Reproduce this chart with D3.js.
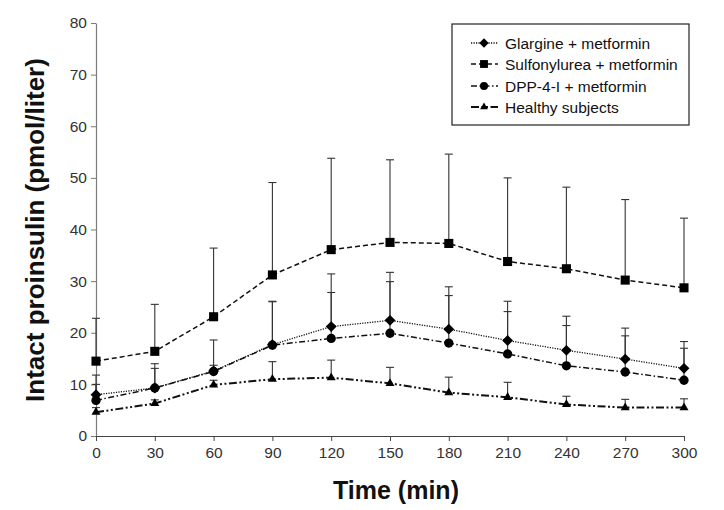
<!DOCTYPE html>
<html>
<head>
<meta charset="utf-8">
<script src="https://cdn.jsdelivr.net/npm/d3@7"></script>
<style>
  html, body { margin: 0; padding: 0; background: #fff; }
  svg { display: block; }
  text { font-family: "Liberation Sans", Arial, Helvetica, sans-serif; }
</style>
</head>
<body>
<div id="chart"></div>
<script>
// ---- data ----
const times = [0, 30, 60, 90, 120, 150, 180, 210, 240, 270, 300];
const seriesNames = ["Glargine + metformin", "Sulfonylurea + metformin", "DPP-4-I + metformin", "Healthy subjects"];
const glargine      = [8.0, 9.3, 12.6, 17.7, 21.2, 22.4, 20.7, 18.5, 16.6, 14.9, 13.1];
const glargineUpper = [11.8, 14.0, 18.6, 26.1, 31.4, 31.7, 28.9, 26.1, 23.2, 20.9, 18.3];
const sulfonylurea      = [14.5, 16.4, 23.1, 31.2, 36.1, 37.5, 37.3, 33.8, 32.4, 30.2, 28.7];
const sulfonylureaUpper = [22.8, 25.5, 36.4, 49.1, 53.8, 53.5, 54.6, 50.0, 48.2, 45.8, 42.2];
const dpp      = [6.9, 9.3, 12.5, 17.6, 18.9, 19.9, 18.0, 15.9, 13.6, 12.4, 10.8];
const dppUpper = [10.0, 13.1, 13.7, 26.0, 27.8, 29.9, 27.2, 24.1, 21.4, 19.4, 17.0];
const healthy      = [4.6, 6.3, 9.9, 11.0, 11.3, 10.2, 8.4, 7.5, 6.1, 5.5, 5.5];
const healthyUpper = [5.5, 7.0, 10.8, 14.4, 14.7, 13.3, 11.4, 10.4, 7.7, 7.1, 7.2];
const yTicks = [0, 10, 20, 30, 40, 50, 60, 70, 80];
const xTicks = [0, 30, 60, 90, 120, 150, 180, 210, 240, 270, 300];

// ---- styles ----
const styles = [
  { values: glargine, upper: glargineUpper, symbol: d3.symbolDiamond2, size: 75, dash: "1.2,1.3", width: 1.3 },
  { values: sulfonylurea, upper: sulfonylureaUpper, symbol: d3.symbolSquare2, size: 105, dash: "5,3", width: 1.5 },
  { values: dpp, upper: dppUpper, symbol: d3.symbolCircle, size: 68, dash: "6,2.5,1.5,2.5", width: 1.5 },
  { values: healthy, upper: healthyUpper, symbol: d3.symbolTriangle2, size: 58, dash: "8,2.5,2,2.5,2,2.5", width: 2 }
];

const W = 724, H = 510;
const svg = d3.select("#chart").append("svg").attr("width", W).attr("height", H);

const x = d3.scaleLinear().domain([0, 300]).range([96, 684]);
const y = d3.scaleLinear().domain([0, 80]).range([436, 23]);

const tickFont = 15.5;
// axes
const yAxis = svg.append("g").attr("transform", `translate(${x(0)},0)`)
  .call(d3.axisLeft(y).tickValues(yTicks).tickSize(5).tickSizeOuter(0).tickPadding(4));
yAxis.select(".domain").attr("stroke", "#7a7a7a").attr("stroke-width", 1.2);
yAxis.selectAll(".tick line").attr("stroke", "#7a7a7a");
yAxis.selectAll(".tick text").attr("font-size", tickFont).attr("fill", "#333")
  .attr("font-family", "'Liberation Sans', Arial, sans-serif");

const xAxis = svg.append("g").attr("transform", `translate(0,${y(0)})`)
  .call(d3.axisBottom(x).tickValues(xTicks).tickSize(5).tickSizeOuter(0).tickPadding(6));
xAxis.select(".domain").attr("stroke", "#444").attr("stroke-width", 1.2);
xAxis.selectAll(".tick line").attr("stroke", "#444");
xAxis.selectAll(".tick text").attr("font-size", tickFont).attr("fill", "#333")
  .attr("font-family", "'Liberation Sans', Arial, sans-serif");

// axis titles
svg.append("text").attr("x", 396).attr("y", 499).attr("text-anchor", "middle")
  .attr("font-size", 25).attr("font-weight", "bold").attr("fill", "#111").text("Time (min)");
svg.append("text").attr("transform", "translate(44,230) rotate(-90)").attr("text-anchor", "middle")
  .attr("font-size", 26).attr("font-weight", "bold").attr("fill", "#111").text("Intact proinsulin (pmol/liter)");

// error bars
const capW = 4;
styles.forEach(s => {
  const g = svg.append("g").attr("stroke", "#333").attr("stroke-width", 1.1);
  times.forEach((t, i) => {
    g.append("line").attr("x1", x(t)).attr("x2", x(t)).attr("y1", y(s.values[i])).attr("y2", y(s.upper[i]));
    g.append("line").attr("x1", x(t) - capW).attr("x2", x(t) + capW).attr("y1", y(s.upper[i])).attr("y2", y(s.upper[i]));
  });
});

// lines
const line = d3.line().x((d, i) => x(times[i])).y(d => y(d));
styles.forEach(s => {
  svg.append("path").datum(s.values).attr("d", line).attr("fill", "none")
    .attr("stroke", "#111").attr("stroke-width", s.width).attr("stroke-dasharray", s.dash);
});

// markers
styles.forEach(s => {
  const sym = d3.symbol().type(s.symbol).size(s.size);
  svg.append("g").selectAll("path").data(s.values).join("path")
    .attr("d", sym).attr("fill", "#000")
    .attr("transform", (d, i) => `translate(${x(times[i])},${y(d)})`);
});

// legend
const lg = svg.append("g");
lg.append("rect").attr("x", 452).attr("y", 24).attr("width", 237).attr("height", 101)
  .attr("fill", "#fff").attr("stroke", "#222").attr("stroke-width", 1.2);
const legendY = [43, 64, 86, 107];
styles.forEach((s, i) => {
  const yy = legendY[i];
  lg.append("line").attr("x1", 471).attr("x2", 498).attr("y1", yy).attr("y2", yy)
    .attr("stroke", "#111").attr("stroke-width", s.width).attr("stroke-dasharray", s.dash);
  lg.append("path").attr("d", d3.symbol().type(s.symbol).size(s.size * 0.75)())
    .attr("transform", `translate(484,${yy})`).attr("fill", "#000");
  lg.append("text").attr("x", 505).attr("y", yy + 5.5).attr("font-size", 15.5).attr("fill", "#111")
    .text(seriesNames[i]);
});
</script>
</body>
</html>
